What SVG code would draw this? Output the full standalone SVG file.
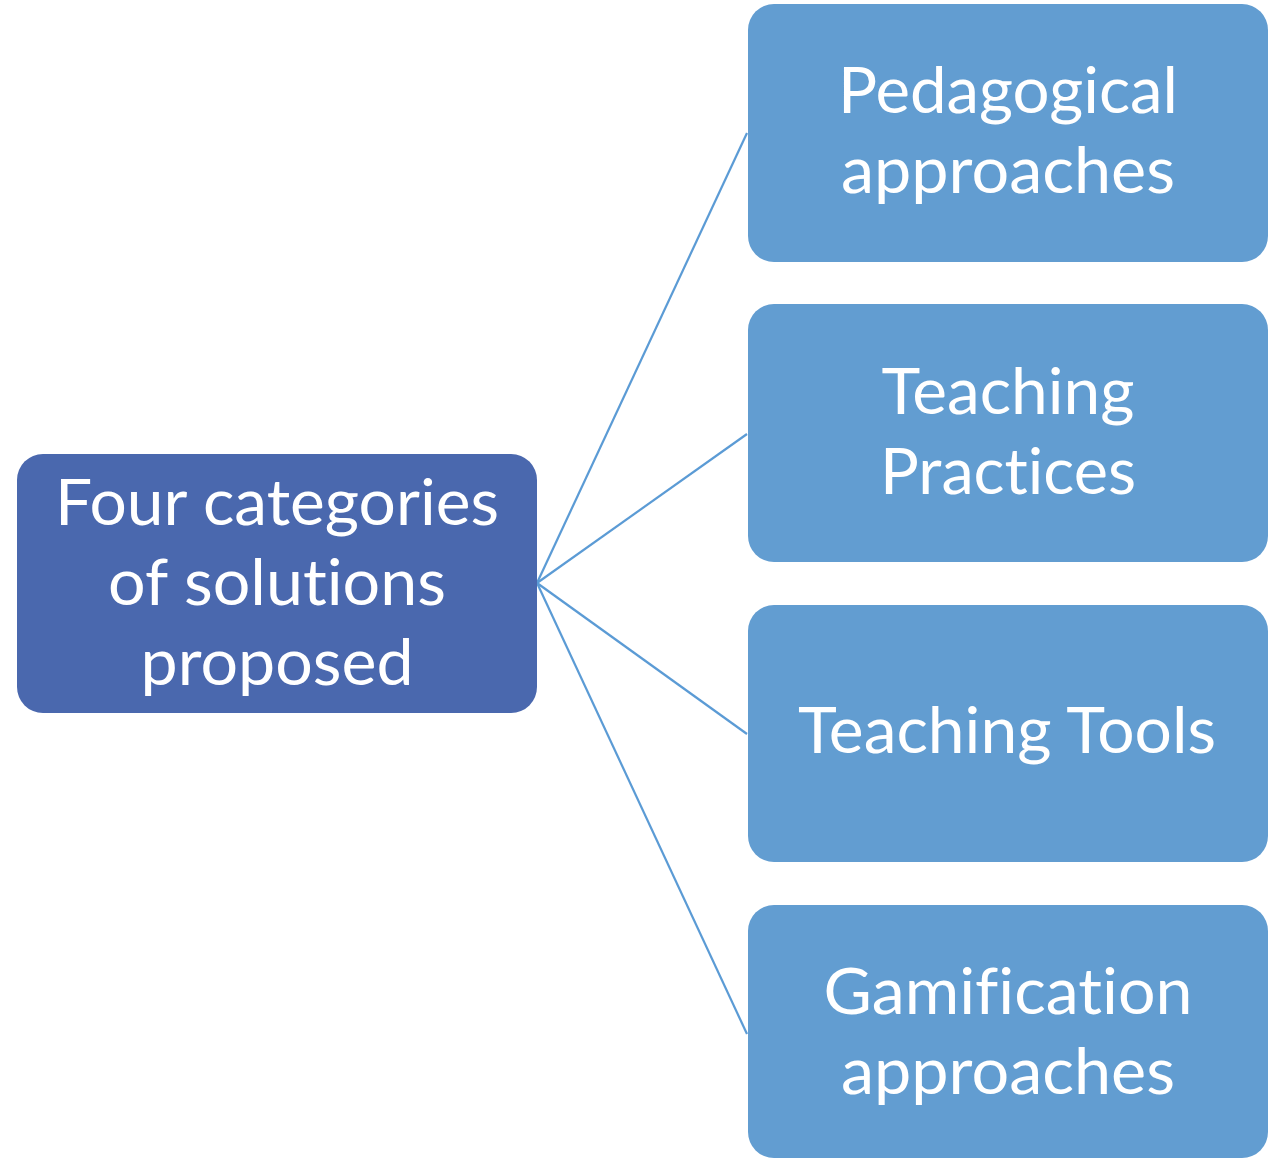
<svg xmlns="http://www.w3.org/2000/svg" width="1271" height="1159" viewBox="0 0 1271 1159">
<style>
.root{fill:#4A68AE}
.leaf{fill:#629DD1}
.t{font-family:"Lato","Open Sans","Liberation Sans",sans-serif;font-size:63px;fill:#FFFFFF;text-anchor:middle;font-variant-ligatures:none;font-feature-settings:"liga" 0,"clig" 0}
.c{stroke:#5B9BD5;stroke-width:2.2;fill:none}
</style>
<rect width="1271" height="1159" fill="#FFFFFF"/>
<g id="connectors">
<line class="c" x1="537" y1="583" x2="747" y2="133"/>
<line class="c" x1="537" y1="583" x2="747" y2="434"/>
<line class="c" x1="537" y1="583" x2="747" y2="734"/>
<line class="c" x1="537" y1="583" x2="747" y2="1034"/>
</g>
<g id="root">
<rect class="root" x="17" y="454" width="520" height="259" rx="26"/>
<text class="t" x="277" y="525" textLength="444" lengthAdjust="spacingAndGlyphs">Four categories</text>
<text class="t" x="277" y="605" textLength="338" lengthAdjust="spacingAndGlyphs">of solutions</text>
<text class="t" x="277" y="685" textLength="273" lengthAdjust="spacingAndGlyphs">proposed</text>
</g>
<g id="pedagogical">
<rect class="leaf" x="748" y="4" width="520" height="258" rx="26"/>
<text class="t" x="1008" y="113" textLength="340" lengthAdjust="spacingAndGlyphs">Pedagogical</text>
<text class="t" x="1008" y="193" textLength="334" lengthAdjust="spacingAndGlyphs">approaches</text>
</g>
<g id="practices">
<rect class="leaf" x="748" y="304" width="520" height="258" rx="26"/>
<text class="t" x="1008" y="414" textLength="253" lengthAdjust="spacingAndGlyphs">Teaching</text>
<text class="t" x="1008" y="494" textLength="256" lengthAdjust="spacingAndGlyphs">Practices</text>
</g>
<g id="tools">
<rect class="leaf" x="748" y="605" width="520" height="257" rx="26"/>
<text class="t" x="1007" y="753" textLength="418" lengthAdjust="spacingAndGlyphs">Teaching Tools</text>
</g>
<g id="gamification">
<rect class="leaf" x="748" y="905" width="520" height="253" rx="26"/>
<text class="t" x="1008" y="1014" textLength="369" lengthAdjust="spacingAndGlyphs">Gamification</text>
<text class="t" x="1008" y="1094" textLength="334" lengthAdjust="spacingAndGlyphs">approaches</text>
</g>
</svg>
